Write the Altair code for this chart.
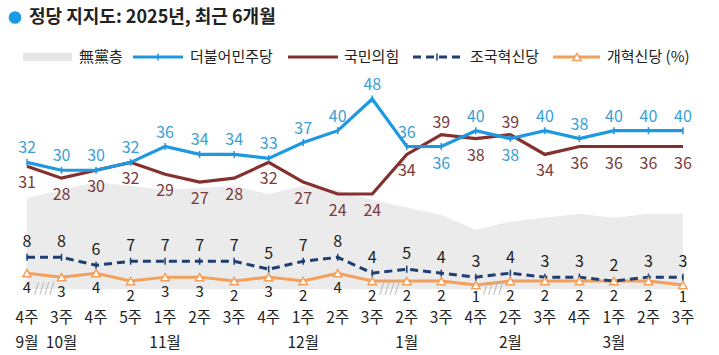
import altair as alt
import pandas as pd

# ---------------- data ----------------
WEEKS = ["4주", "3주", "4주", "5주", "1주", "2주", "3주", "4주", "1주", "2주",
         "3주", "2주", "3주", "4주", "2주", "3주", "4주", "1주", "2주", "3주"]
MONTHS = ["9월", "10월", "11월", "12월", "1월", "2월", "3월"]
MONTH_AT = [0, 1, 4, 8, 11, 14, 17]
DEM = [32, 30, 30, 32, 36, 34, 34, 33, 37, 40, 48, 36, 36, 40, 38, 40, 38, 40, 40, 40]
PPP = [31, 28, 30, 32, 29, 27, 28, 32, 27, 24, 24, 34, 39, 38, 39, 34, 36, 36, 36, 36]
RKP = [8, 8, 6, 7, 7, 7, 7, 5, 7, 8, 4, 5, 4, 3, 4, 3, 3, 2, 3, 3]
REF = [4, 3, 4, 2, 3, 3, 2, 3, 2, 4, 2, 2, 2, 1, 2, 2, 2, 2, 2, 1]
NONE = [23, 25, 27, 26, 25, 25.5, 26, 24, 26, 25, 22.5, 20.6, 18.7, 15, 17, 18, 19, 18, 19, 19]
BREAKS = [0.5, 10.5, 13.5]
DEM_BELOW = [12, 14]
PPP_ABOVE = [12, 14]
NAMES = ["無黨층", "더불어민주당", "국민의힘", "조국혁신당", "개혁신당 (%)"]
TITLE = "정당 지지도: 2025년, 최근 6개월"

# ---------------- style ----------------
FONT = "Noto Sans CJK KR"
BLUE, BLUE_T = "#1e98e0", "#3a9fd6"
RED, RED_T = "#84302f", "#7a3b3b"
NAVY = "#1f3e72"
ORANGE = "#f2a05c"
GRAY = "#ebebeb"
INK = "#222222"

W, H = 719, 355
X_SCALE = alt.Scale(domain=[-27 / 34.526, (W - 27) / 34.526], nice=False, zero=False)
Y_SCALE = alt.Scale(domain=[(289 - H) / 3.958, 289 / 3.958], nice=False, zero=False)

idx = list(range(len(WEEKS)))


def frame(vals, flip=()):
    return pd.DataFrame({"i": idx, "v": vals,
                         "flip": [k in flip for k in idx]})


d_dem, d_ppp = frame(DEM, DEM_BELOW), frame(PPP, PPP_ABOVE)
d_rkp, d_ref, d_none = frame(RKP), frame(REF), frame(NONE)

X = alt.X("i:Q", scale=X_SCALE, axis=None)
Y = alt.Y("v:Q", scale=Y_SCALE, axis=None)


def base(df):
    return alt.Chart(df).encode(x=X, y=Y)


area = base(d_none).mark_area(color=GRAY).encode(y2=alt.datum(0))

ref_line = base(d_ref).mark_line(color=ORANGE, strokeWidth=3)
rkp_line = base(d_rkp).mark_line(color=NAVY, strokeWidth=3, strokeDash=[8, 5])
ppp_line = base(d_ppp).mark_line(color=RED, strokeWidth=3.2)
dem_line = base(d_dem).mark_line(color=BLUE, strokeWidth=3.2)

TICK = "M0,-1L0,1"
dem_pts = base(d_dem).mark_point(shape=TICK, size=49, strokeWidth=1.5, color=BLUE, opacity=1)
rkp_pts = base(d_rkp).mark_point(shape=TICK, size=49, strokeWidth=1.5, color=NAVY, opacity=1)
ref_pts = base(d_ref).mark_point(shape="triangle-up", size=70, strokeWidth=1.5,
                                 color=ORANGE, fill="white", filled=True,
                                 stroke=ORANGE, opacity=1)


def labels(df, color, dy, flip_value, size=16):
    return base(df).transform_filter(
        alt.datum.flip == flip_value
    ).mark_text(font=FONT, fontSize=size, color=color, dy=dy, baseline="middle").encode(
        text=alt.Text("v:Q"))


# orange labels: keep them above the week row even for the lowest values
ref_lab = alt.Chart(d_ref).transform_calculate(
    ly="max(datum.v, 1.7)"
).mark_text(font=FONT, fontSize=15, color=INK, dy=14.5, baseline="middle").encode(
    x=X, y=alt.Y("ly:Q", scale=Y_SCALE, axis=None), text=alt.Text("v:Q"))

lab = [
    labels(d_dem, BLUE_T, -14, False), labels(d_dem, BLUE_T, 17, True),
    labels(d_ppp, RED_T, 17, False), labels(d_ppp, RED_T, -12, True),
    labels(d_rkp, INK, -15, False),
    ref_lab,
]

# x axis texts
wk = alt.Chart(pd.DataFrame({"i": idx, "w": WEEKS})).mark_text(
    font=FONT, fontSize=15.5, color=INK, baseline="middle").encode(
    x=X, y=alt.value(318), text="w:N")
mo = alt.Chart(pd.DataFrame({"i": MONTH_AT, "m": MONTHS})).mark_text(
    font=FONT, fontSize=15.5, color=INK, baseline="middle").encode(
    x=X, y=alt.value(343), text="m:N")
brk = alt.Chart(pd.DataFrame({"i": BREAKS})).mark_text(
    font=FONT, fontSize=13, color="#b0b0b0", text="////", baseline="middle").encode(
    x=X, y=alt.value(288))

# title & legend
ONE = pd.DataFrame({"k": [0]})
LY = 57


def txt(s, x, y, size, weight="normal"):
    return alt.Chart(ONE).mark_text(text=s, font=FONT, fontSize=size, fontWeight=weight,
                                    color=INK, align="left", baseline="middle").encode(
        x=alt.value(x), y=alt.value(y))


def rule(x1, x2, color, dash=None):
    kw = dict(color=color, strokeWidth=3)
    if dash:
        kw["strokeDash"] = dash
    return alt.Chart(ONE).mark_rule(**kw).encode(
        x=alt.value(x1), x2=alt.value(x2), y=alt.value(LY))


title = [
    alt.Chart(ONE).mark_point(shape="circle", filled=True, size=160, color="#1a9be6",
                              opacity=1).encode(x=alt.value(15), y=alt.value(17.5)),
    txt(TITLE, 29, 18, 18, "bold"),
]
legend = [
    alt.Chart(ONE).mark_rect(color="#e6e6e6").encode(
        x=alt.value(23), x2=alt.value(72), y=alt.value(53), y2=alt.value(61)),
    txt(NAMES[0], 79, LY, 15),
    rule(133, 183, BLUE),
    alt.Chart(ONE).mark_point(shape=TICK, size=49, strokeWidth=1.5, color=BLUE, opacity=1).encode(
        x=alt.value(158), y=alt.value(LY)),
    txt(NAMES[1], 190, LY, 15),
    rule(288, 338, RED),
    txt(NAMES[2], 344, LY, 15),
    rule(413, 460, NAVY, [8, 5]),
    alt.Chart(ONE).mark_point(shape=TICK, size=49, strokeWidth=1.5, color=NAVY, opacity=1).encode(
        x=alt.value(437), y=alt.value(LY)),
    txt(NAMES[3], 470, LY, 15),
    rule(553, 600, ORANGE),
    alt.Chart(ONE).mark_point(shape="triangle-up", size=70, strokeWidth=1.5, fill="white",
                              filled=True, stroke=ORANGE, opacity=1).encode(
        x=alt.value(577), y=alt.value(LY)),
    txt(NAMES[4], 607, LY, 15),
]

chart = alt.layer(
    area, ref_line, rkp_line, ppp_line, dem_line, dem_pts, rkp_pts, ref_pts,
    *lab, wk, mo, brk, *title, *legend
).properties(
    width=W, height=H, padding=0, autosize="none", background="white"
).configure_view(stroke=None)

chart.save("out.html", embed_options={"renderer": "svg", "actions": False})
